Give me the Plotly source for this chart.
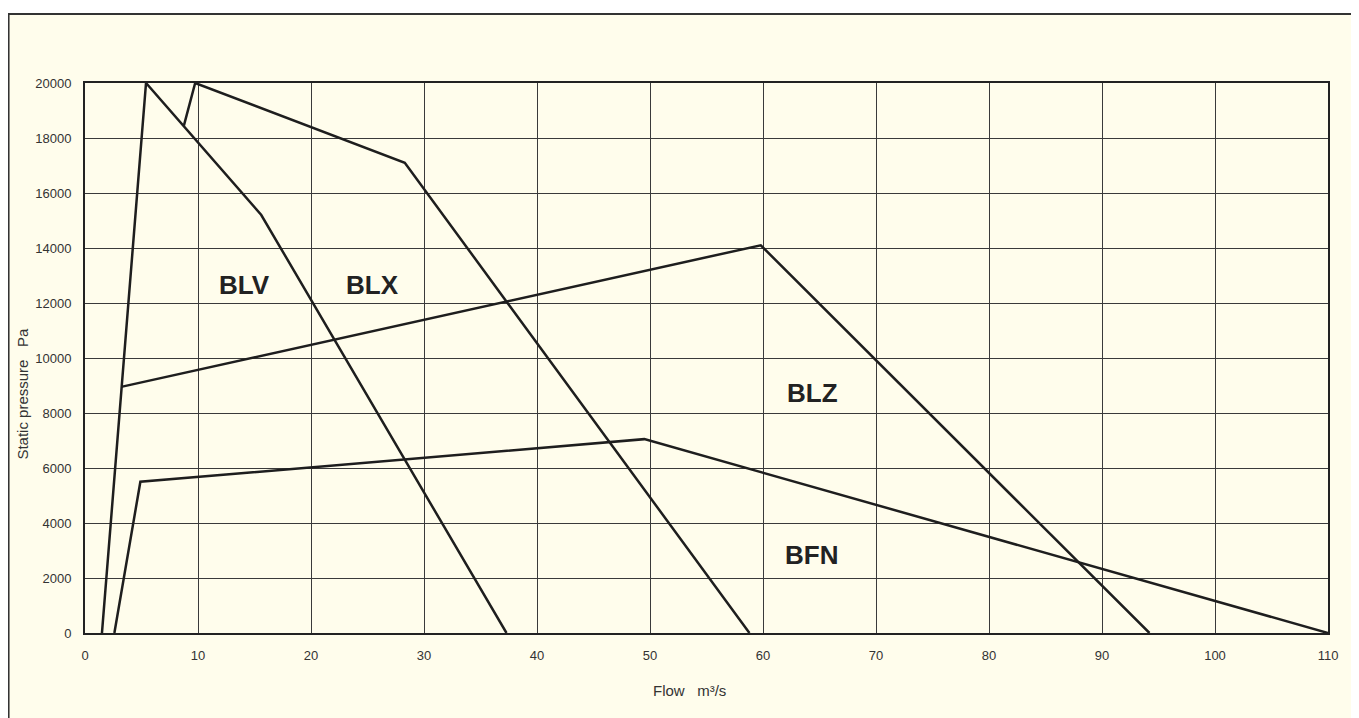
import plotly.graph_objects as go

# Data
blv_x = [1.5, 5.4, 15.6, 37.3]
blv_y = [0, 20000, 15200, 0]
blx_x = [8.75, 9.75, 28.3, 58.8]
blx_y = [18450, 20000, 17100, 0]
blz_x = [3.2, 59.8, 94.2]
blz_y = [8950, 14100, 0]
bfn_x = [2.6, 4.9, 49.5, 110]
bfn_y = [0, 5500, 7050, 0]

label_names = ["BLV", "BLX", "BLZ", "BFN"]
label_x = [14.1, 25.4, 64.4, 64.3]
label_y = [12650, 12650, 8730, 2840]

x_ticks = list(range(0, 111, 10))
y_ticks = list(range(0, 20001, 2000))

cream = "#FFFDEC"
line_col = "#1e1e1e"
font_fam = "Liberation Sans, Arial"

fig = go.Figure()
for xs, ys, nm in [(blv_x, blv_y, "BLV"), (blx_x, blx_y, "BLX"),
                   (blz_x, blz_y, "BLZ"), (bfn_x, bfn_y, "BFN")]:
    fig.add_trace(go.Scatter(x=xs, y=ys, mode="lines", name=nm,
                             line=dict(color=line_col, width=2.5),
                             showlegend=False, hoverinfo="x+y"))

for nm, lx, ly in zip(label_names, label_x, label_y):
    fig.add_annotation(x=lx, y=ly, text="<b>%s</b>" % nm, showarrow=False,
                       font=dict(family=font_fam, size=26, color="#222"))

# Axis titles as annotations
fig.add_annotation(xref="paper", yref="paper", x=-0.05, y=0.435,
                   xanchor="center", yanchor="middle",
                   text="Static pressure   Pa", textangle=-90, showarrow=False,
                   font=dict(family=font_fam, size=15, color="#333"))
fig.add_annotation(xref="paper", yref="paper", x=0.486, y=-0.104,
                   xanchor="center", yanchor="middle",
                   text="Flow   m³/s", showarrow=False,
                   font=dict(family=font_fam, size=15, color="#333"))

# Outer frame (top and left edges) with cream fill
fig.add_shape(type="rect", xref="paper", yref="paper", x0=-0.0615, x1=1.1,
              y0=-0.3, y1=1.1255, fillcolor=cream, line=dict(width=0), layer="below")
fig.add_shape(type="path", xref="paper", yref="paper",
              path="M -0.0615,-0.3 L -0.0615,1.1255 L 1.1,1.1255",
              line=dict(color="#333", width=2))

axis_common = dict(showgrid=True, gridcolor="#3a3a3a", gridwidth=1, zeroline=False,
                   showline=True, mirror=True, linecolor="#222", linewidth=2,
                   ticks="", ticklen=0, ticklabelstandoff=9,
                   tickfont=dict(family=font_fam, size=13, color="#333"))
fig.update_xaxes(range=[0, 110], tickvals=x_ticks,
                 ticktext=[str(v) for v in x_ticks], **axis_common)
fig.update_yaxes(range=[0, 20000], tickvals=y_ticks,
                 ticktext=[str(v) for v in y_ticks], **axis_common)

fig.update_layout(width=1359, height=718,
                  margin=dict(l=77, r=39, t=75, b=93, autoexpand=False),
                  paper_bgcolor="white", plot_bgcolor=cream,
                  showlegend=False)

fig.write_html("out.html")
